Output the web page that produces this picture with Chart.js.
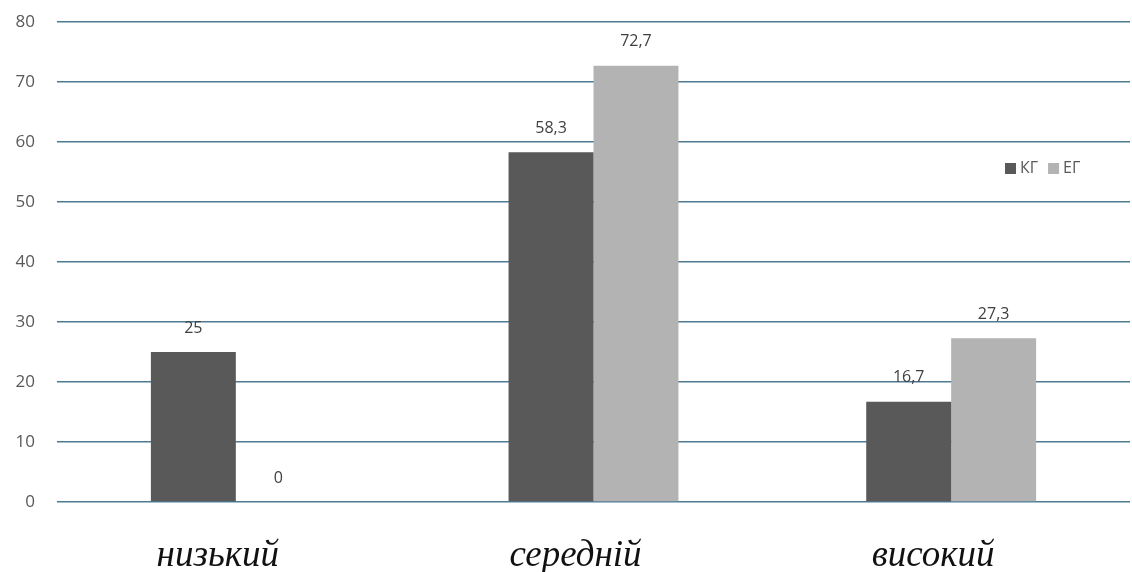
<!DOCTYPE html>
<html>
<head>
<meta charset="utf-8">
<script src="https://cdn.jsdelivr.net/npm/chart.js@4/dist/chart.umd.min.js"></script>
<style>
  html, body { margin: 0; padding: 0; background: #fff; }
  #wrap { width: 1132px; height: 572px; }
</style>
</head>
<body>
<div id="wrap"><canvas id="chart" width="1132" height="572"></canvas></div>
<script>
// рівні
const levels = ['низький', 'середній', 'високий'];
const kgValues = [25, 58.3, 16.7];
const egValues = [0, 72.7, 27.3];
const seriesNames = ['КГ', 'ЕГ'];
const seriesColors = ['#595959', '#b3b3b3'];
const yTicks = [0, 10, 20, 30, 40, 50, 60, 70, 80];

// підписи значень над стовпчиками
const valueLabels = {
  id: 'valueLabels',
  afterDatasetsDraw(chart) {
    const ctx = chart.ctx;
    ctx.save();
    ctx.font = '16px "Open Sans", "DejaVu Sans", sans-serif';
    ctx.fillStyle = '#404040';
    ctx.textAlign = 'center';
    ctx.textBaseline = 'bottom';
    chart.data.datasets.forEach((ds, i) => {
      chart.getDatasetMeta(i).data.forEach((bar, j) => {
        const txt = String(ds.data[j]).replace('.', ',');
        ctx.fillText(txt, bar.x, bar.y - 16);
      });
    });
    ctx.restore();
  }
};

// легенда всередині області графіка
const innerLegend = {
  id: 'innerLegend',
  afterDraw(chart) {
    const ctx = chart.ctx;
    ctx.save();
    ctx.font = '16px "Open Sans", "DejaVu Sans", sans-serif';
    ctx.textBaseline = 'middle';
    let x = 1005;
    const y = 168;
    chart.data.datasets.forEach((ds) => {
      ctx.fillStyle = ds.backgroundColor;
      ctx.fillRect(x, y - 5, 11, 11);
      ctx.fillStyle = '#595959';
      ctx.fillText(ds.label, x + 15, y);
      x += 15 + ctx.measureText(ds.label).width + 10;
    });
    ctx.restore();
  }
};

// eslint-disable-next-line no-undef
new Chart(document.getElementById('chart'), {
  type: 'bar',
  data: {
    labels: levels,
    datasets: [
      { label: seriesNames[0], data: kgValues, backgroundColor: seriesColors[0] },
      { label: seriesNames[1], data: egValues, backgroundColor: seriesColors[1] },
    ],
  },
  options: {
    responsive: false,
    animation: false,
    layout: { padding: { top: 22, right: 2, left: 0, bottom: 0 } },
    plugins: {
      legend: { display: false },
      tooltip: { enabled: false },
    },
    datasets: {
      bar: { categoryPercentage: 0.475, barPercentage: 1 },
    },
    scales: {
      x: {
        grid: { display: false, drawTicks: false },
        border: { display: false },
        ticks: {
          padding: 32,
          labelOffset: -18,
          color: '#111',
          font: { family: '"Liberation Serif", "DejaVu Serif", serif', style: 'italic', size: 37 },
        },
        afterFit(scale) { scale.height = 70; },
      },
      y: {
        min: 0,
        max: 80,
        afterBuildTicks(scale) { scale.ticks = yTicks.map((v) => ({ value: v })); },
        grid: { color: '#4f7a94', lineWidth: 1.5, drawTicks: false },
        border: { display: false },
        ticks: {
          padding: 22,
          color: '#595959',
          font: { family: '"Open Sans", "DejaVu Sans", sans-serif', size: 17 },
        },
        afterFit(scale) {
          scale.width = 57;
          scale.paddingTop = 0;
          scale.paddingBottom = 0;
        },
      },
    },
  },
  plugins: [valueLabels, innerLegend],
});
</script>
</body>
</html>
